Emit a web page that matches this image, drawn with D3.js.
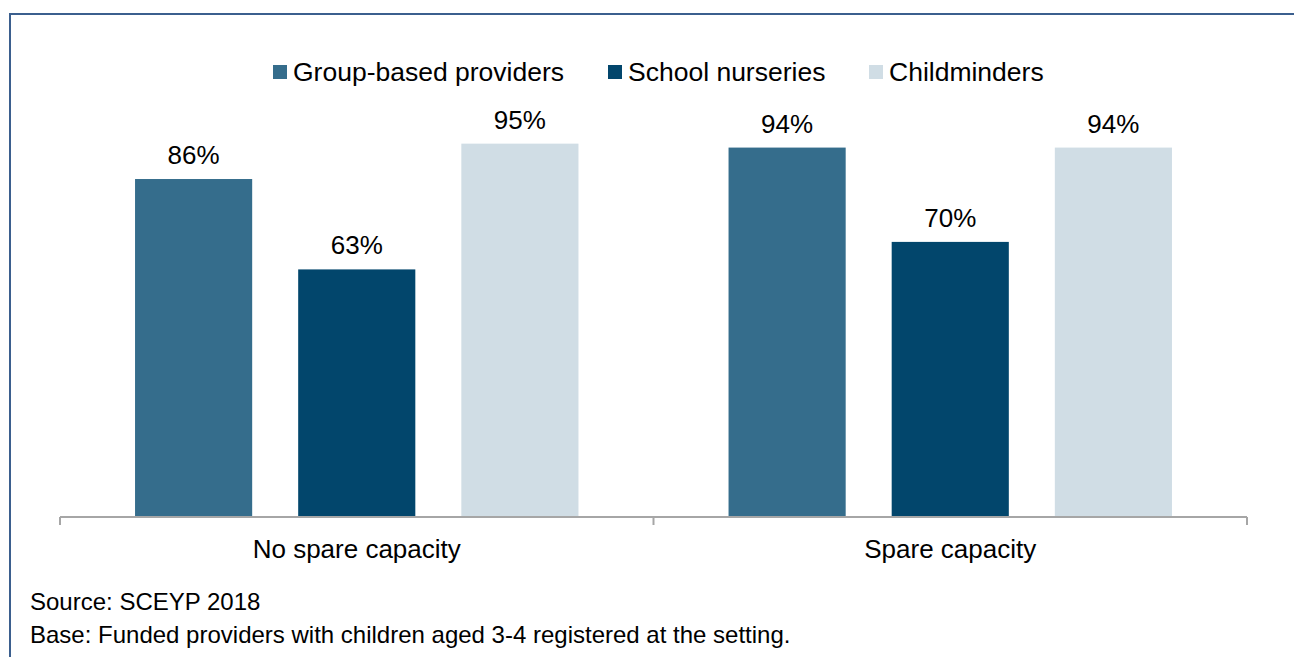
<!DOCTYPE html>
<html>
<head>
<meta charset="utf-8">
<script src="https://cdn.jsdelivr.net/npm/d3@7"></script>
<style>
  body { margin: 0; background: #fff; }
  svg { font-family: "Liberation Sans", Arial, sans-serif; }
</style>
</head>
<body>
<div id="chart"></div>
<script>
// data
const categories = ['No spare capacity', 'Spare capacity'];
const seriesNames = ['Group-based providers', 'School nurseries', 'Childminders'];
const groupBased = [86, 94];
const schoolNurseries = [63, 70];
const childminders = [95, 94];
const colors = ['#356d8c', '#02466c', '#d0dde5'];

const width = 1294;
const height = 657;
const margin = {top: 124, bottom: 140, left: 60, right: 47};
const chartWidth = width - margin.left - margin.right;
const chartHeight = height - margin.top - margin.bottom;

const svg = d3.select('#chart')
    .append('svg')
    .attr('width', width)
    .attr('height', height);

// frame
svg.append('path')
    .attr('d', `M10,${height + 5}V14H${width + 5}`)
    .attr('fill', 'none')
    .attr('stroke', '#3b5f8e')
    .attr('stroke-width', 2);

const g = svg.append('g')
    .attr('transform', `translate(${margin.left},${margin.top})`);

const xScale = d3.scaleBand()
    .domain(categories)
    .range([0, chartWidth]);

const xInner = d3.scaleBand()
    .domain(seriesNames)
    .range([0, xScale.bandwidth()])
    .paddingInner(0.282)
    .paddingOuter(0.46);

const yScale = d3.scaleLinear()
    .domain([0, 100])
    .range([chartHeight, 0]);

const rows = categories.map((c, i) => ({
    category: c,
    values: [groupBased[i], schoolNurseries[i], childminders[i]]
        .map((v, j) => ({name: seriesNames[j], value: v, color: colors[j]}))
}));

const groups = g.selectAll('.group')
    .data(rows)
    .enter()
  .append('g')
    .attr('transform', d => `translate(${xScale(d.category)},0)`);

groups.selectAll('rect')
    .data(d => d.values)
    .enter()
  .append('rect')
    .attr('x', d => xInner(d.name))
    .attr('y', d => yScale(d.value))
    .attr('width', xInner.bandwidth())
    .attr('height', d => chartHeight - yScale(d.value))
    .attr('fill', d => d.color);

groups.selectAll('.label')
    .data(d => d.values)
    .enter()
  .append('text')
    .attr('x', d => xInner(d.name) + xInner.bandwidth() / 2)
    .attr('y', d => yScale(d.value) - 15)
    .attr('text-anchor', 'middle')
    .attr('font-size', 26)
    .attr('fill', '#000')
    .text(d => d.value + '%');

// x axis with group-boundary ticks
const axis = g.append('g')
    .attr('transform', `translate(0,${chartHeight})`);

axis.append('line')
    .attr('x1', 0).attr('x2', chartWidth)
    .attr('stroke', '#a6a6a6').attr('stroke-width', 2);

const boundaries = [0, ...categories.map(c => xScale(c) + xScale.bandwidth())];
axis.selectAll('.tick')
    .data(boundaries)
    .enter()
  .append('line')
    .attr('x1', d => d).attr('x2', d => d)
    .attr('y1', 0).attr('y2', 8)
    .attr('stroke', '#a6a6a6').attr('stroke-width', 2);

axis.selectAll('.cat')
    .data(categories)
    .enter()
  .append('text')
    .attr('x', d => xScale(d) + xScale.bandwidth() / 2)
    .attr('y', 41)
    .attr('text-anchor', 'middle')
    .attr('font-size', 26)
    .text(d => d);

// legend
const legendX = [273, 608, 869];
const legend = svg.selectAll('.legend')
    .data(seriesNames)
    .enter()
  .append('g')
    .attr('transform', (d, i) => `translate(${legendX[i]},65)`);

legend.append('rect')
    .attr('width', 14).attr('height', 14)
    .attr('fill', (d, i) => colors[i]);

legend.append('text')
    .attr('x', 20).attr('y', 16)
    .attr('font-size', 26.5)
    .text(d => d);

// notes
svg.append('text')
    .attr('x', 30).attr('y', 610)
    .attr('font-size', 24)
    .text('Source: SCEYP 2018');

svg.append('text')
    .attr('x', 30).attr('y', 643)
    .attr('font-size', 24)
    .text('Base: Funded providers with children aged 3-4 registered at the setting.');
</script>
</body>
</html>
